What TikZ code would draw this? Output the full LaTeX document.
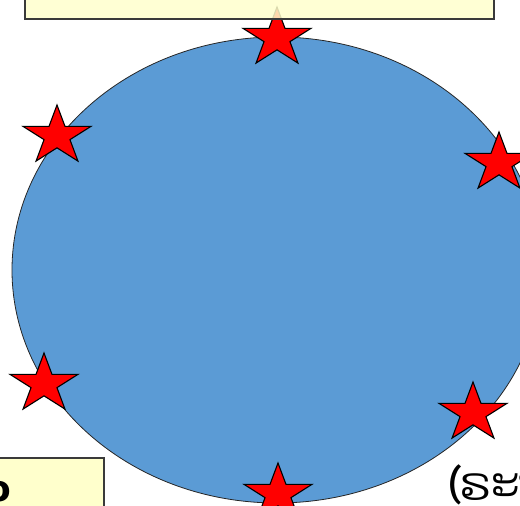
\documentclass[tikz,border=0pt]{standalone}
\usepackage{fontspec}
\newfontfamily\laofont[Script=Lao]{Dhyana}
\newfontfamily\notefont{DejaVu Sans}
\usetikzlibrary{shapes.geometric}
\definecolor{discblue}{HTML}{5B9BD5}
\definecolor{notefill}{HTML}{FFFFCC}
\definecolor{noteline}{HTML}{3A3A3A}
\begin{document}
\begin{tikzpicture}[x=1pt,y=1pt,
  redstar/.style={star, star points=5, star point ratio=2.618, fill=red, draw=black,
    line width=1.1pt, minimum size=62pt, inner sep=0pt, outer sep=0pt, xscale=1.15, transform shape},
  notebox/.style={fill=notefill, draw=noteline, line width=1.5pt}]
\useasboundingbox (0,0) rectangle (520,506);
\coordinate (C) at (277,236);
\coordinate (S1) at (277,468);
\coordinate (S2) at (57,370);
\coordinate (S3) at (499,343);
\coordinate (S4) at (44,122);
\coordinate (S5) at (473,93);
\coordinate (S6) at (278,12);

\fill[discblue] (C) ellipse [x radius=265, y radius=233];
\draw[line width=0.8pt, black!85] (C) ellipse [x radius=265, y radius=233];

\foreach \s in {S1,S2,S3,S4,S5,S6}
  \node[redstar] (star-\s) at (\s) {};

\draw[notebox, fill opacity=0.85] (25,487) rectangle (494,530);
\draw[notebox] (-10,-10) rectangle (104,48);

\node[anchor=base west, inner sep=0pt, font=\notefont\bfseries\fontsize{36}{36}\selectfont] (leftnote) at (-14,4) {o};
\node[anchor=base west, inner sep=0pt, font=\laofont\fontsize{46}{46}\selectfont] (rightnote) at (450,5) {(ຣະບົບ};
\end{tikzpicture}
\end{document}
